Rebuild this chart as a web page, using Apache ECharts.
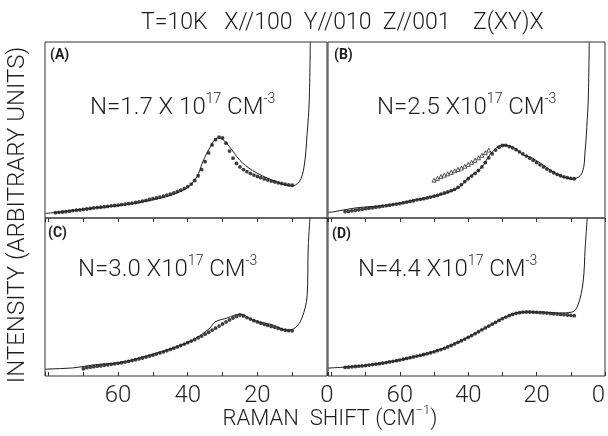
<!DOCTYPE html>
<html>
<head>
<meta charset="utf-8">
<script src="https://cdn.jsdelivr.net/npm/echarts@6/dist/echarts.min.js"></script>
</head>
<body style="margin:0; background:#fff">
<div id="container" style="width:608px;height:436px"></div>
<script>
// Raman spectra, four carrier densities; x = Raman shift (cm-1), y = intensity (arb.)
var panelNames = ['(A)', '(B)', '(C)', '(D)'];
var densityText = ['N=1.7 X 10', 'N=2.5 X10', 'N=3.0 X10', 'N=4.4 X10'];
var tickValues = [0, 20, 40, 60];

// solid lines (calculated)
var lineA = [[81,2.6],[76.6,3.4],[67,5.7],[57.4,7.6],[51,9.9],[45,12.8],[40.3,17],[37.4,23.3],[35.7,31.8],[33.7,39.8],[31.4,45.5],[30,44.8],[28,40.5],[25.1,33],[21.4,27],[15.7,21.5],[10.3,18.2],[8,20.5],[6.6,29],[5.7,48],[5.1,67],[4.8,100]];
var lineB = [[81,3.2],[79.7,3.4],[73,5.7],[63.2,7.4],[55.7,10.2],[48.7,13],[44.1,15.9],[42,18.5],[40,22.7],[36.2,28.4],[33.3,36.9],[29.9,41.5],[27,40.3],[23.8,35.8],[21.2,34],[16.8,28.4],[13,23.9],[9.3,22.2],[6.7,25.6],[5.8,38.6],[5.2,55.7],[4.9,67],[4.6,100]];
var lineC = [[81,4.2],[80.2,4.4],[73,5.1],[67.2,7],[58.6,8.9],[50.9,13.3],[44.3,17.7],[38.5,22.8],[33.6,30.4],[32.2,34.2],[28.7,36.7],[25,39.2],[21.3,35.4],[18,33.5],[15.5,32.3],[11.5,29.1],[9.2,30.4],[7.2,36.7],[5.7,51],[5.4,81],[4.9,100]];
var lineD = [[81,5],[80.8,5.1],[75.8,5.7],[67,7.6],[57.4,11.4],[50.4,15.2],[42.9,21.5],[35,30.4],[29.2,37.3],[24.2,40.5],[18.4,40.5],[13.7,39.9],[9.6,40.5],[7.9,44.9],[6.4,59.5],[5.8,81],[5.2,100]];

// measured points (dots)
var dotsA = [[78,3.0],[77,3.2],[76,3.4],[75,3.6],[74,3.9],[73,4.2],[72,4.4],[71,4.6],[70,4.9],[69,5.1],[68,5.4],[67,5.7],[66,5.9],[65,6.1],[64,6.4],[63,6.6],[62,6.9],[61,7.1],[60,7.3],[59,7.6],[58,7.9],[57,8.2],[56,8.5],[55,8.8],[54,9.2],[53,9.6],[52,10.0],[51,10.5],[50,11.0],[49,11.4],[48,11.9],[47,12.4],[46,13.0],[45,13.6],[44,14.3],[43,15.0],[42,15.8],[41,16.7],[40,17.8],[39,19.3],[38,21.3],[37,24.0],[36,27.5],[35,32],[34,37],[33,41.5],[32,44.5],[31,46],[30,45.5],[29,42.5],[28,38],[27,34],[26,31],[25,29],[24,27.5],[23,26.3],[22,25.3],[21,24.4],[20,23.6],[19,22.9],[18,22.2],[17,21.6],[16,21.0],[15,20.5],[14,20.0],[13,19.6],[12,19.2],[11,18.8],[10,18.6]];
var dotsB = [[76,3.6],[75,3.8],[74,4.1],[73,4.4],[72,4.7],[71,5.0],[70,5.3],[69,5.6],[68,5.8],[67,6.1],[66,6.4],[65,6.7],[64,7.0],[63,7.3],[62,7.6],[61,7.9],[60,8.2],[59,8.6],[58,9.0],[57,9.4],[56,9.8],[55,10.3],[54,10.6],[53,11.0],[52,11.4],[51,11.9],[50,12.4],[49,12.9],[48,13.6],[47,14.2],[46,14.8],[45,15.5],[44,16.3],[43,17.4],[42,19.0],[41,20.7],[40,22.3],[39,23.8],[38,25.3],[37,27.0],[36,29.0],[35,31.5],[34,34.2],[33,36.5],[32,38.6],[31,40.2],[30,41.2],[29,41.3],[28,40.6],[27,39.8],[26,38.8],[25,37.6],[24,36.4],[23,35.2],[22,34.0],[21,32.8],[20,31.5],[19,30.2],[18,29.0],[17,27.8],[16,26.7],[15,25.7],[14,24.8],[13,24.0],[12,23.4],[11,22.9],[10,22.5],[9,22.3]];
var trianglesB = [[50,21.5],[49,22.5],[48,23.5],[47,24.3],[46,25.1],[45,26.0],[44,26.8],[43,27.6],[42,28.4],[41,29.4],[40,30.4],[39,31.6],[38,32.8],[37,34.2],[36,35.6],[35,37.1],[34,38.6]];
var dotsC = [[70,4.6],[69,5.3],[68,5.6],[67,5.9],[66,6.2],[65,6.5],[64,6.8],[63,7.1],[62,7.4],[61,7.7],[60,8.0],[59,8.4],[58,8.8],[57,9.3],[56,9.8],[55,10.3],[54,10.8],[53,11.4],[52,12.0],[51,12.6],[50,13.2],[49,13.9],[48,14.6],[47,15.3],[46,16.0],[45,16.8],[44,17.6],[43,18.4],[42,19.3],[41,20.2],[40,21.1],[39,22.1],[38,23.1],[37,24.2],[36,25.3],[35,26.5],[34,27.7],[33,29.0],[32,30.3],[31,31.6],[30,32.9],[29,34.2],[28,35.5],[27,36.7],[26,37.8],[25,38.6],[24,38.0],[23,37.0],[22,36.0],[21,35.0],[20,34.2],[19,33.4],[18,32.7],[17,32.0],[16,31.4],[15,30.8],[14,30.1],[13,29.5],[12,29.0],[11,28.7],[10,28.6]];
var dotsD = [[76,5.4],[75,5.6],[74,5.8],[73,6.0],[72,6.2],[71,6.4],[70,6.6],[69,6.9],[68,7.2],[67,7.5],[66,7.8],[65,8.1],[64,8.5],[63,8.9],[62,9.3],[61,9.7],[60,10.1],[59,10.6],[58,11.1],[57,11.6],[56,12.1],[55,12.6],[54,13.1],[53,13.6],[52,14.1],[51,14.7],[50,15.3],[49,16.0],[48,16.7],[47,17.5],[46,18.4],[45,19.3],[44,20.3],[43,21.3],[42,22.3],[41,23.4],[40,24.5],[39,25.6],[38,26.8],[37,28.0],[36,29.2],[35,30.4],[34,31.6],[33,32.8],[32,34.0],[31,35.2],[30,36.3],[29,37.3],[28,38.2],[27,39.0],[26,39.6],[25,40.1],[24,40.4],[23,40.5],[22,40.5],[21,40.4],[20,40.3],[19,40.1],[18,40.0],[17,39.8],[16,39.6],[15,39.4],[14,39.2],[13,39.0],[12,38.8],[11,38.6],[10,38.4],[9,38.2]];

var lines = [lineA, lineB, lineC, lineD];
var dots = [dotsA, dotsB, dotsC, dotsD];

var FONT = 'Roboto';
var INK = '#1e1e1e';

var grids = [
    {left: 45, top: 42, width: 282, height: 176},
    {left: 328, top: 42, width: 277, height: 176},
    {left: 45, top: 218, width: 282, height: 158},
    {left: 328, top: 218, width: 277, height: 158}
];
grids.forEach(function (g) {
    g.show = true;
    g.borderColor = '#333';
    g.borderWidth = 1;
});

var xAxes = [], yAxes = [], series = [];
for (var i = 0; i < 4; i++) {
    xAxes.push({
        gridIndex: i, type: 'value', inverse: true,
        min: 0, max: 81, interval: 10,
        axisLine: {show: false},
        splitLine: {show: false},
        axisTick: {show: true, inside: i >= 2, length: 4, lineStyle: {color: '#333'}},
        axisLabel: {
            show: i >= 2, margin: 8, fontSize: 24, fontFamily: FONT, fontWeight: 300, color: INK,
            alignMinLabel: i === 3 ? 'right' : null,
            formatter: function (v) { return tickValues.indexOf(v) >= 0 ? String(v) : ''; }
        }
    });
    yAxes.push({gridIndex: i, type: 'value', min: 0, max: 100, show: false});
    series.push({
        type: 'line', xAxisIndex: i, yAxisIndex: i, data: lines[i],
        smooth: 0.35, showSymbol: false, silent: true,
        lineStyle: {color: INK, width: 1}
    });
    series.push({
        type: 'scatter', xAxisIndex: i, yAxisIndex: i, data: dots[i],
        symbol: 'circle', symbolSize: 3.8, silent: true,
        itemStyle: {color: '#111'}
    });
}
series.push({
    type: 'scatter', xAxisIndex: 1, yAxisIndex: 1, data: trianglesB,
    symbol: 'triangle', symbolSize: 4, silent: true,
    itemStyle: {color: '#fff', borderColor: '#111', borderWidth: 0.9}
});

var textStyle = {fontFamily: FONT, fontWeight: 300, fill: INK};
function richLabel(main, sup, tail, sup2, size) {
    return {
        text: '{n|' + main + '}{s|' + sup + '}{n|' + tail + '}{s|' + sup2 + '}',
        rich: {
            n: {fontSize: size, lineHeight: size + 4, fontFamily: FONT, fontWeight: 300, fill: INK, verticalAlign: 'bottom'},
            s: {fontSize: Math.round(size * 0.6), lineHeight: Math.round(size * 0.65), fontFamily: FONT, fontWeight: 300, fill: INK, verticalAlign: 'top'}
        }
    };
}

var labelPos = [[90, 92], [377, 92], [78, 254], [358, 254]];
var letterPos = [[50, 55], [334, 55], [48, 233], [332, 234]];
var graphics = [];
for (var k = 0; k < 4; k++) {
    var st = richLabel(densityText[k], '17', ' CM', '-3', 24);
    st.align = 'left';
    st.verticalAlign = 'top';
    graphics.push({type: 'text', x: labelPos[k][0], y: labelPos[k][1], style: st});
    graphics.push({type: 'text', x: letterPos[k][0], y: letterPos[k][1],
        style: {text: panelNames[k], fontFamily: FONT, fontWeight: 'bold', fontSize: 14, fill: INK, align: 'left', verticalAlign: 'middle'}});
}
graphics.push({type: 'text', x: 141, y: 23,
    style: Object.assign({text: 'T=10K   X//100  Y//010  Z//001    Z(XY)X', fontSize: 23, align: 'left', verticalAlign: 'middle'}, textStyle)});
graphics.push({type: 'text', x: 18, y: 215, rotation: Math.PI / 2,
    style: Object.assign({text: 'INTENSITY (ARBITRARY UNITS)', fontSize: 24, align: 'center', verticalAlign: 'middle'}, textStyle)});
graphics.push({type: 'text', x: 330, y: 404,
    style: {
        text: '{a|RAMAN  SHIFT (CM}{s|−1}{a|)}', align: 'center', verticalAlign: 'top',
        rich: {
            a: {fontSize: 22, lineHeight: 26, fontFamily: FONT, fontWeight: 300, fill: INK, verticalAlign: 'bottom'},
            s: {fontSize: 13, lineHeight: 14, fontFamily: FONT, fontWeight: 300, fill: INK, verticalAlign: 'top'}
        }
    }});

var chart = echarts.init(document.getElementById('container'), null, {renderer: 'canvas'});
chart.setOption({
    backgroundColor: '#fff',
    animation: false,
    grid: grids,
    xAxis: xAxes,
    yAxis: yAxes,
    series: series,
    graphic: graphics
});
</script>
</body>
</html>
